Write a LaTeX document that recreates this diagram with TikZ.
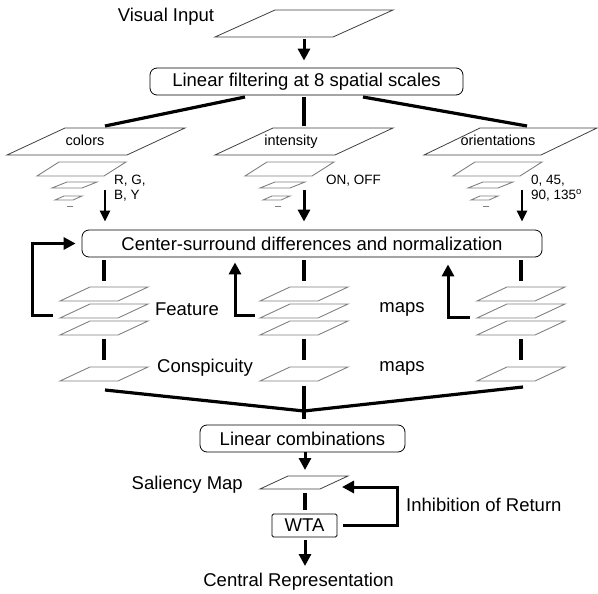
\documentclass[tikz,border=0pt]{standalone}
\usepackage{fontspec}
\setmainfont{Liberation Sans}
\usetikzlibrary{arrows.meta}
\newcommand\plg[5]{\draw (#1,#2) -- ++(#3,0) -- ++(#4,-#5) -- ++(-#3,0) -- cycle;}
\tikzset{
  bigtxt/.style={font=\fontsize{18.5pt}{22pt}\selectfont, inner sep=0pt},
  smalltxt/.style={font=\fontsize{14.5pt}{17pt}\selectfont, inner sep=0pt, text height=10.5pt, text depth=3pt},
  labtxt/.style={font=\fontsize{13.5pt}{15pt}\selectfont, inner sep=0pt, align=left, anchor=west},
  procbox/.style={draw, rounded corners=7pt, line width=0.8pt, minimum height=27pt,
    inner sep=0pt, font=\fontsize{18.5pt}{22pt}\selectfont},
  plgline/.style={draw=black!75, line width=0.8pt},
  layline/.style={draw=gray, line width=0.9pt},
  bar/.style={line width=4pt},
  link/.style={line width=3.2pt},
  arr/.style={line width=3pt, -{Triangle[length=12pt,width=12pt]}},
  arrthin/.style={line width=2.5pt, -{Triangle[length=11pt,width=10pt]}}
}
\begin{document}
\begin{tikzpicture}[x=1pt,y=-1pt]
\useasboundingbox (0,0) rectangle (598,594);

% Visual input
\node[bigtxt] (vi) at (166,17) {Visual Input};
\begin{scope}[plgline]\plg{215}{37}{118}{60}{27}\end{scope}
\coordinate (vib) at (304,39);
\node[procbox, minimum width=313pt] (filt) at (306.5,81.5) {Linear filtering at 8 spatial scales};
\draw[arr, shorten >=7pt] (vib) -- (filt.north -| vib);

% links from filtering box
\coordinate (fl) at (245,97);
\coordinate (fc) at (304,97);
\coordinate (fr) at (363,97);
\coordinate (cl) at (105,126);
\coordinate (ic) at (304,126);
\coordinate (orr) at (527,126);
\draw[link] (fl) -- (cl);
\draw[bar] (fc) -- (ic);
\draw[link] (fr) -- (orr);

% top parallelograms
\begin{scope}[plgline]
\plg{7}{155}{120}{58}{27}
\plg{215}{155}{120}{58}{27}
\plg{424}{155}{117}{56}{27}
\end{scope}
\node[smalltxt] (tcol) at (85,142) {colors};
\node[smalltxt] (tint) at (291,142) {intensity};
\node[smalltxt] (tori) at (498,142) {orientations};

% pyramids
\foreach \dx in {0,208,416}{
  \begin{scope}[layline]
  \plg{37+\dx}{176}{67}{22}{14}
  \plg{52+\dx}{188}{30}{15}{6}
  \plg{55+\dx}{200}{18}{9}{4}
  \draw (67+\dx,206) -- (73+\dx,206);
  \end{scope}
}
\node[labtxt] (lrg) at (114,188) {R, G,\\B, Y};
\node[labtxt] (lon) at (326,181) {ON, OFF};
\node[labtxt] (lori) at (531,188) {0, 45,\\90, 135\textsuperscript{o}};

% center-surround box
\node[procbox, minimum width=460pt] (cs) at (312,243.5) {Center-surround differences and normalization};
\coordinate (ca) at (105,190);
\coordinate (ia) at (304,190);
\coordinate (oa) at (522,190);
\draw[arrthin, shorten >=8pt] (ca) -- (cs.north -| ca);
\draw[arr, shorten >=8pt] (ia) -- (cs.north -| ia);
\draw[arrthin, shorten >=8pt] (oa) -- (cs.north -| oa);

% feature map stacks and conspicuity maps
\foreach \dx in {0,200,417}{
  \begin{scope}[layline]
  \plg{60+\dx}{301}{58}{30}{14}
  \plg{60+\dx}{318}{58}{30}{14}
  \plg{60+\dx}{335}{58}{30}{14}
  \plg{60+\dx}{381}{58}{30}{14}
  \end{scope}
  \draw[bar] (104+\dx,260) -- (104+\dx,281);
  \draw[bar] (104+\dx,339) -- (104+\dx,360);
}
\node[bigtxt] (tfeat) at (187,309) {Feature};
\node[bigtxt] (tmaps1) at (402,309) {maps};
\node[bigtxt] (tcons) at (205,368) {Conspicuity};
\node[bigtxt] (tmaps2) at (402,368) {maps};

% feedback arrows
\coordinate (fbl) at (53,315);
\coordinate (fbm) at (255,315);
\coordinate (fbr) at (470,317);
\draw[arr, shorten >=6pt] (fbl) -- (32,315) |- (cs.west);
\draw[arr, shorten >=5pt] (fbm) -- (235,315) -- (cs.south -| 235,0);
\draw[arr, shorten >=7pt] (fbr) -- (448,317) -- (cs.south -| 448,0);

% converging lines
\coordinate (jl) at (105,390);
\coordinate (jr) at (523,387);
\coordinate (jm) at (304,386);
\coordinate (jc) at (304,411);
\coordinate (jb) at (304,419);
\draw[link] (jl) -- (jc) -- (jr);
\draw[bar] (jm) -- (jb);

% linear combinations
\node[procbox, minimum width=205pt] (lc) at (302.5,438.5) {Linear combinations};
\coordinate (sal) at (305,476);
\draw[arr, shorten >=6pt] (lc.south -| sal) -- (sal);
\begin{scope}[plgline]\plg{260}{489}{60}{28}{13}\end{scope}
\node[bigtxt, anchor=east] (tsal) at (243,485) {Saliency Map};
\node[draw, line width=0.8pt, rounded corners=1.5pt, minimum width=65pt, minimum height=23pt,
  inner sep=0pt, font=\fontsize{18.5pt}{22pt}\selectfont] (wta) at (304.5,525.5) {WTA};
\coordinate (salb) at (305,493);
\draw[bar, shorten >=4pt] (salb) -- (wta.north -| salb);
\coordinate (salr) at (342,487);
\coordinate (inhc) at (397,487);
\draw[arr] ([xshift=6pt]wta.east) -| (inhc) -- (salr);
\node[bigtxt, anchor=west] (tinh) at (406,505) {Inhibition of Return};
\coordinate (crt) at (305,566);
\draw[arr, shorten <=3pt] (wta.south -| crt) -- (crt);
\node[bigtxt] (tcr) at (298.5,582) {Central Representation};
\end{tikzpicture}
\end{document}
